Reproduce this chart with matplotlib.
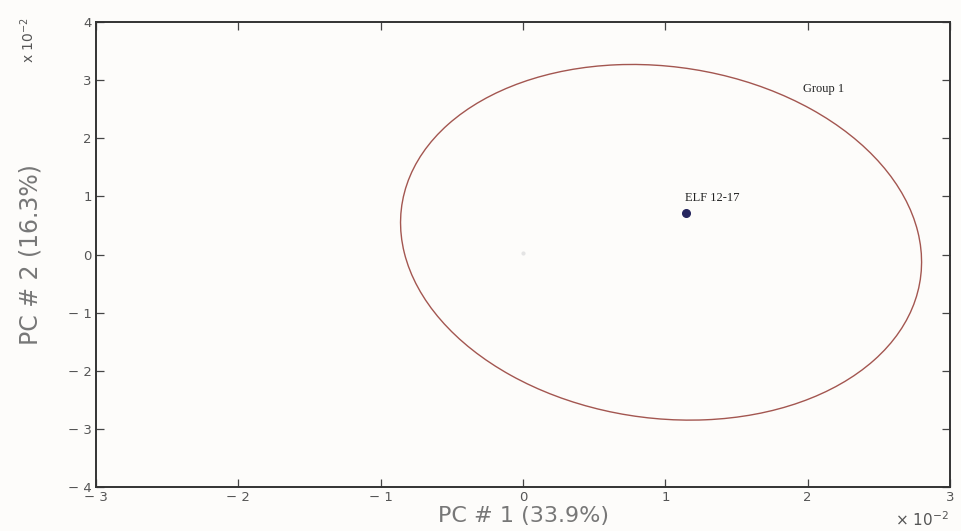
import numpy as np
import matplotlib
matplotlib.use("Agg")
import matplotlib.pyplot as plt
from matplotlib.patches import Ellipse

# ---- data (units of 1e-2) ----
x_ticks = [-3, -2, -1, 0, 1, 2, 3]
x_tick_labels = ["\u2212 3", "\u2212 2", "\u2212 1", "0", "1", "2", "3"]
y_ticks = [-4, -3, -2, -1, 0, 1, 2, 3, 4]
y_tick_labels = ["\u2212 4", "\u2212 3", "\u2212 2", "\u2212 1", "0", "1", "2", "3", "4"]

sample_x = [1.145]
sample_y = [0.71]
sample_names = ["ELF 12-17"]

origin_x = [0.0]
origin_y = [0.02]

group_name = "Group 1"
group_center = [0.97, 0.21]
group_cov = [[3.35, -0.62], [-0.62, 9.36]]   # confidence-ellipse covariance (half-extents 1.83, 3.06)
group_label_pos = [1.97, 2.85]

bg = "#fdfcfa"
fig = plt.figure(figsize=(9.61, 5.31), dpi=100, facecolor=bg)
ax = fig.add_axes([96/961, (531-487)/531, (950-96)/961, (487-22)/531], facecolor=bg)

# ellipse from covariance
cov = np.array(group_cov)
vals, vecs = np.linalg.eigh(cov)
order = vals.argsort()[::-1]
vals, vecs = vals[order], vecs[:, order]
angle = np.degrees(np.arctan2(vecs[1, 0], vecs[0, 0]))
ell = Ellipse(group_center, width=2*np.sqrt(vals[0]), height=2*np.sqrt(vals[1]),
              angle=angle, fill=False, edgecolor="#a35650", linewidth=1.0)
ax.add_patch(ell)

ax.plot(origin_x, origin_y, 'o', color="#e4e4e4", markersize=2, zorder=2)
ax.plot(sample_x, sample_y, 'o', color="#26265e", markersize=5.5, zorder=3)
for sx, sy, nm in zip(sample_x, sample_y, sample_names):
    ax.annotate(nm, (sx, sy), xytext=(-1, 7), textcoords="offset points",
                family="Liberation Serif", fontsize=9, color="#222222",
                ha="left", va="bottom")
ax.text(group_label_pos[0], group_label_pos[1], group_name, family="Liberation Serif",
        fontsize=9, color="#222222", ha="left", va="center")

ax.set_xlim(-3, 3)
ax.set_ylim(-4, 4)
ax.set_xticks(x_ticks)
ax.set_xticklabels(x_tick_labels)
ax.set_yticks(y_ticks)
ax.set_yticklabels(y_tick_labels)
ax.tick_params(direction="in", length=6, width=0.9, color="#444444",
               labelsize=9.5, labelcolor="#555555", top=True, right=True, pad=3)
for s in ax.spines.values():
    s.set_linewidth(1.4)
    s.set_color("#333333")

ax.set_xlabel("PC # 1 (33.9%)", fontsize=16, color="#777777", labelpad=1)
ax.set_ylabel("PC # 2 (16.3%)", fontsize=17, color="#777777", labelpad=18)

fig.text(28/961, 1 - 40/531, "x 10$^{-2}$", rotation=90, fontsize=10, color="#555555",
         ha="center", va="center")
fig.text(922/961, 1 - 520/531, "\u00d7 10$^{-2}$", fontsize=11, color="#555555",
         ha="center", va="center")

fig.savefig("out.png", dpi=100, facecolor=bg)
